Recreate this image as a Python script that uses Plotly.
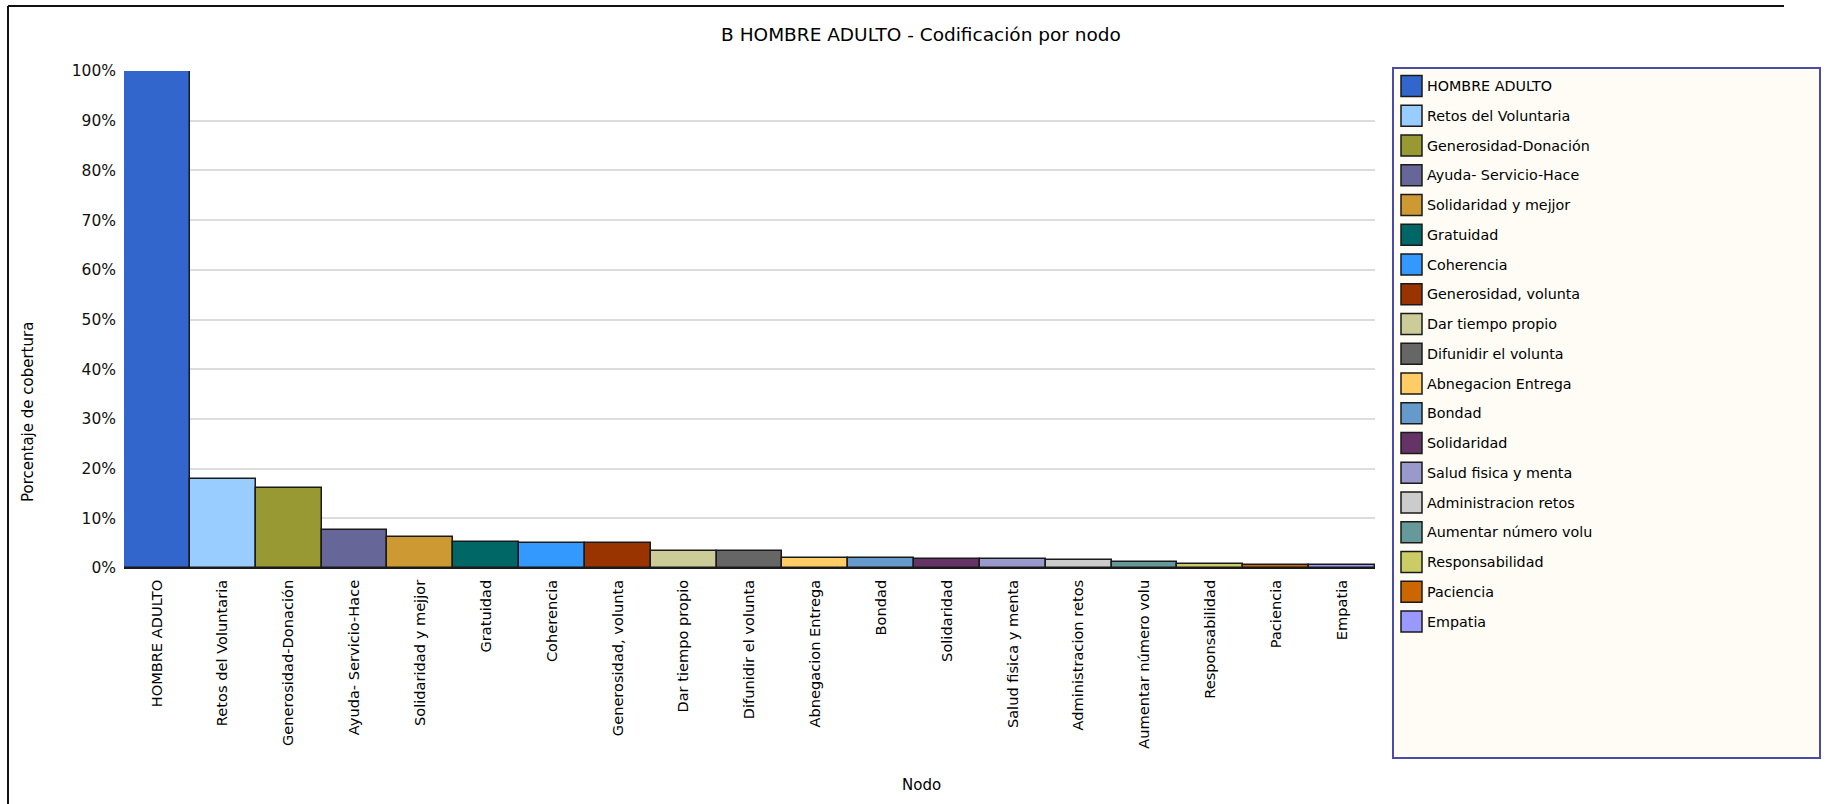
import plotly.graph_objects as go

# Nodes (categories), coverage percentages and bar colours
nodos = [
    "HOMBRE ADULTO", "Retos del Voluntaria", "Generosidad-Donación",
    "Ayuda- Servicio-Hace", "Solidaridad y mejjor", "Gratuidad", "Coherencia",
    "Generosidad, volunta", "Dar tiempo propio", "Difunidir el volunta",
    "Abnegacion Entrega", "Bondad", "Solidaridad", "Salud fisica y menta",
    "Administracion retos", "Aumentar número volu", "Responsabilidad",
    "Paciencia", "Empatia",
]
cobertura = [
    100.0, 17.9, 16.0, 7.6, 6.2, 5.3, 5.0, 5.0, 3.4, 3.5,
    2.1, 2.1, 1.8, 1.8, 1.6, 1.2, 0.9, 0.6, 0.6,
]
colores = [
    "#3366CC", "#99CCFF", "#999933", "#666699", "#CC9933", "#006666", "#3399FF",
    "#993300", "#CCCC99", "#666666", "#FFCC66", "#6699CC", "#663366", "#9999CC",
    "#CCCCCC", "#669999", "#CCCC66", "#CC6600", "#9999FF",
]
y_ticks = [0, 10, 20, 30, 40, 50, 60, 70, 80, 90, 100]

W, H = 1829, 804
PL, PR, PT, PB = 124, 1375, 71, 568  # plot area in pixels
FONT = "DejaVu Sans"


def px_x(x):
    return (x - PL) / (PR - PL)


def px_y(y):
    return (PB - y) / (PB - PT)


fig = go.Figure(
    go.Bar(
        x=nodos,
        y=cobertura,
        marker=dict(color=colores, line=dict(color="#1a1a1a", width=1.5)),
        showlegend=False,
        hovertemplate="%{x}: %{y}%<extra></extra>",
    )
)

shapes = []
annotations = []

# outer frame (top and left edges)
shapes.append(dict(type="line", xref="paper", yref="paper",
                   x0=px_x(8), x1=px_x(1784), y0=px_y(6), y1=px_y(6),
                   line=dict(color="#111111", width=2)))
shapes.append(dict(type="line", xref="paper", yref="paper",
                   x0=px_x(8), x1=px_x(8), y0=px_y(6), y1=px_y(810),
                   line=dict(color="#111111", width=2)))

# legend panel
shapes.append(dict(type="rect", xref="paper", yref="paper", layer="below",
                   x0=px_x(1393), x1=px_x(1820), y0=px_y(68), y1=px_y(758),
                   fillcolor="#FFFCF5", line=dict(color="#4B4BA8", width=2)))
for i, (nombre, col) in enumerate(zip(nodos, colores)):
    cy = 86 + i * 29.75
    shapes.append(dict(type="rect", xref="paper", yref="paper",
                       x0=px_x(1401), x1=px_x(1422),
                       y0=px_y(cy - 10.5), y1=px_y(cy + 10.5),
                       fillcolor=col, line=dict(color="#1a1a1a", width=1.5)))
    annotations.append(dict(xref="paper", yref="paper", x=px_x(1425), y=px_y(cy),
                            xanchor="left", yanchor="middle", showarrow=False,
                            text=nombre, font=dict(family=FONT, size=14.3, color="#000000")))

# axis titles
annotations.append(dict(xref="paper", yref="paper", x=px_x(28), y=px_y(412),
                        xanchor="center", yanchor="middle", showarrow=False,
                        textangle=-90, text="Porcentaje de cobertura",
                        font=dict(family=FONT, size=15, color="#000000")))
annotations.append(dict(xref="paper", yref="paper", x=px_x(921), y=px_y(785),
                        xanchor="center", yanchor="middle", showarrow=False,
                        text="Nodo", font=dict(family=FONT, size=15, color="#000000")))

fig.update_layout(
    width=W, height=H,
    margin=dict(l=PL, r=W - PR, t=PT, b=H - PB, pad=0),
    paper_bgcolor="#FFFFFF",
    plot_bgcolor="#FFFFFF",
    bargap=0,
    title=dict(text="B HOMBRE ADULTO - Codificación por nodo",
               xref="container", yref="container",
               x=921 / W, y=1 - 35 / H, xanchor="center", yanchor="middle",
               font=dict(family=FONT, size=18.5, color="#000000")),
    shapes=shapes,
    annotations=annotations,
    xaxis=dict(
        type="category",
        tickangle=-90,
        tickfont=dict(family=FONT, size=14.6, color="#000000"),
        showgrid=False, zeroline=False,
        showline=True, linecolor="#1a1a1a", linewidth=1,
        ticks="", ticklabelstandoff=5,
    ),
    yaxis=dict(
        range=[0, 100],
        tickvals=y_ticks,
        ticktext=[f"{v}%" for v in y_ticks],
        tickfont=dict(family=FONT, size=15.5, color="#111111"),
        showgrid=True, gridcolor="#DDDDDD", gridwidth=1.5,
        zeroline=False, showline=False, ticks="",
        ticklabelstandoff=7,
    ),
)

fig.write_html("out.html")
